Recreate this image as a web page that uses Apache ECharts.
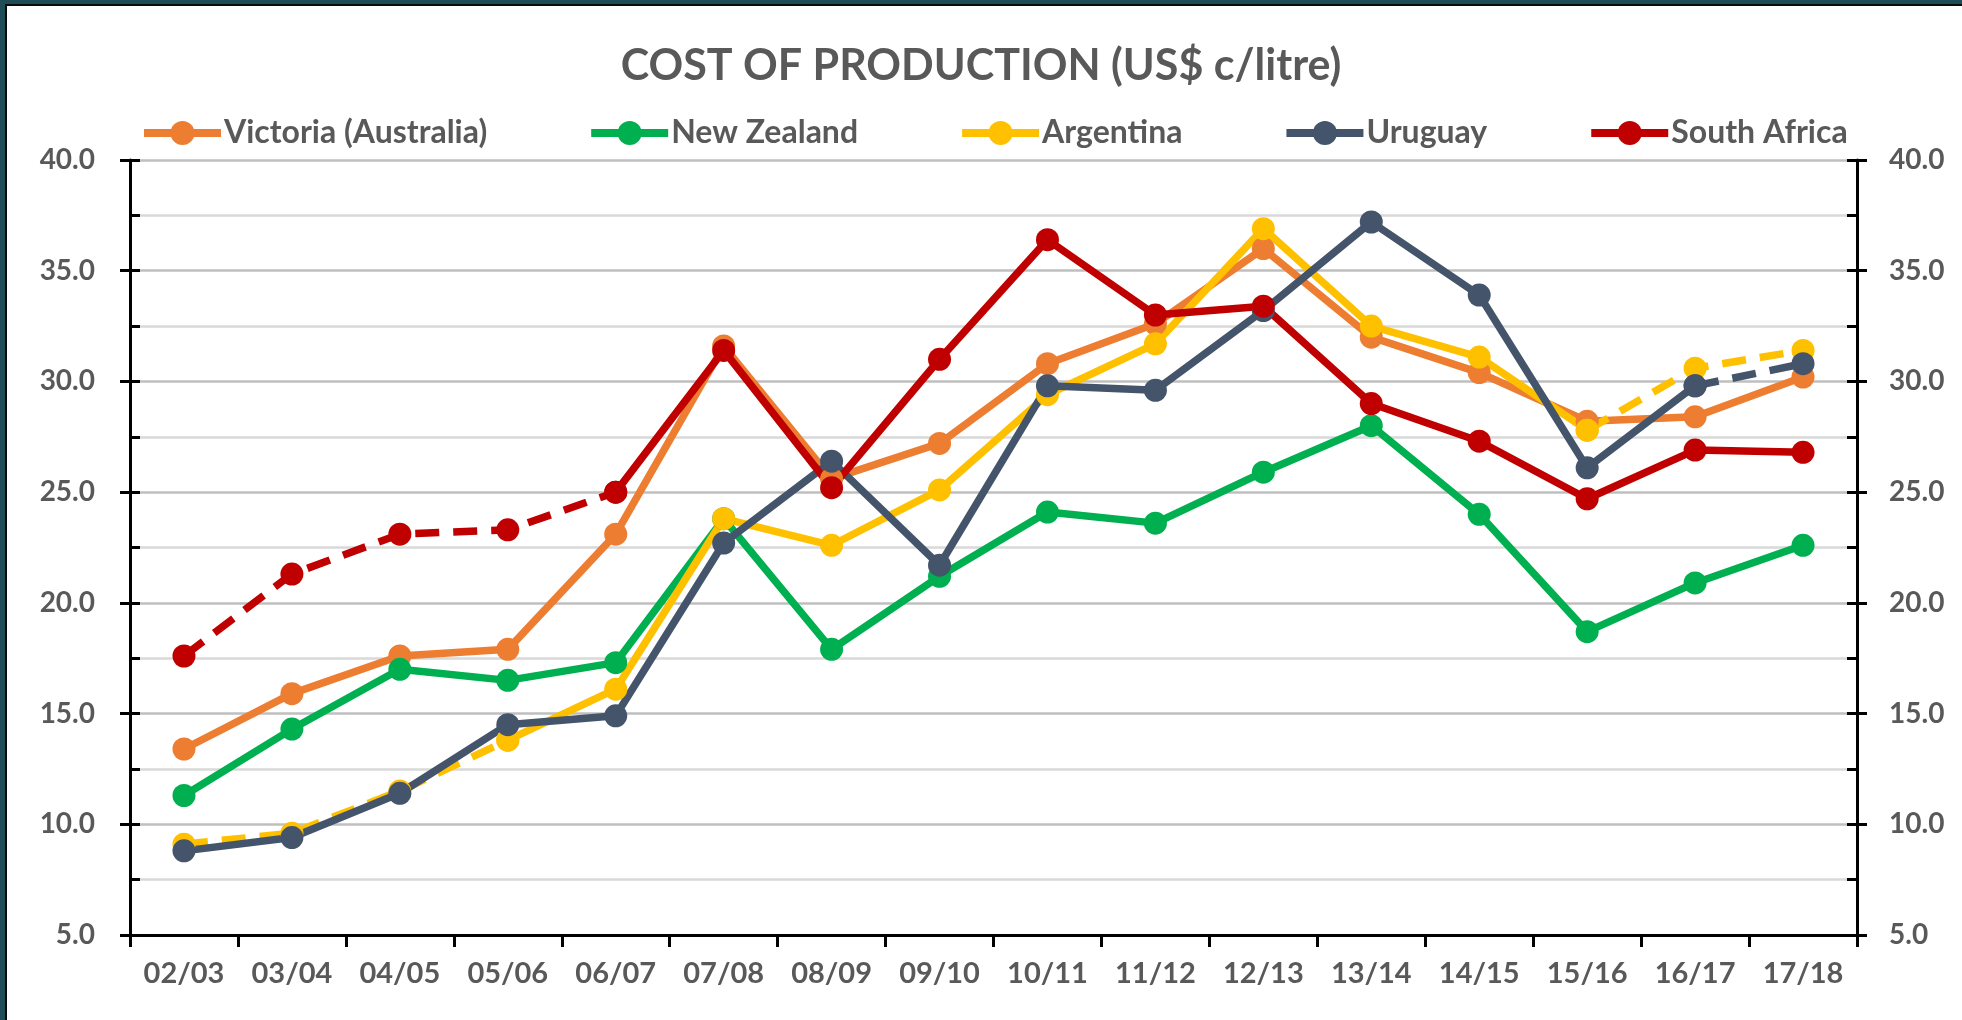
<!DOCTYPE html>
<html>
<head>
<meta charset="utf-8">
<script src="https://cdn.jsdelivr.net/npm/echarts@6/dist/echarts.min.js"></script>
<style>
  html, body { margin: 0; padding: 0; background: #ffffff; }
  #wrap { position: relative; width: 1962px; height: 1020px; overflow: hidden; }
  #chart { position: absolute; left: 0; top: 0; width: 1962px; height: 1020px; }
  .b { position: absolute; pointer-events: none; }
</style>
</head>
<body>
<div id="wrap">
  <div id="chart"></div>
  <div class="b" style="left:0;top:0;width:1962px;height:4px;background:#1f4d57;"></div>
  <div class="b" style="left:0;top:4px;width:1962px;height:2px;background:#0b0b0b;"></div>
  <div class="b" style="left:0;top:0;width:5px;height:1020px;background:#1f4d57;"></div>
  <div class="b" style="left:5px;top:4px;width:2px;height:1016px;background:#0b0b0b;"></div>
</div>
<script>
// ---- data ----
const categories = ['02/03','03/04','04/05','05/06','06/07','07/08','08/09','09/10','10/11','11/12','12/13','13/14','14/15','15/16','16/17','17/18'];
const victoria    = [13.4,15.9,17.6,17.9,23.1,31.6,25.6,27.2,30.8,32.6,36.0,32.0,30.4,28.2,28.4,30.2];
const newZealand  = [11.3,14.3,17.0,16.5,17.3,23.8,17.9,21.2,24.1,23.6,25.9,28.0,24.0,18.7,20.9,22.6];
const argentina   = [9.1,9.6,11.5,13.8,16.1,23.8,22.6,25.1,29.4,31.7,36.9,32.5,31.1,27.8,30.6,31.4];
const uruguay     = [8.8,9.4,11.4,14.5,14.9,22.7,26.4,21.7,29.8,29.6,33.2,37.2,33.9,26.1,29.8,30.8];
const southAfrica = [17.6,21.3,23.1,23.3,25.0,31.4,25.2,31.0,36.4,33.0,33.4,29.0,27.3,24.7,26.9,26.8];
// index ranges drawn dashed (estimates) per series
const argentinaDashed   = [[0, 3], [13, 15]];
const uruguayDashed     = [[14, 15]];
const southAfricaDashed = [[0, 4]];
const yTicks = { min: 5, max: 40, step: 5 };

// ---- helpers ----
function inRanges(i, ranges) { return ranges.some(r => i >= r[0] && i <= r[1]); }
function solidPart(vals, ranges) {
  return vals.map((v, i) => {
    const segLeft = i > 0 && !ranges.some(r => i - 1 >= r[0] && i <= r[1]);
    const segRight = i < vals.length - 1 && !ranges.some(r => i >= r[0] && i + 1 <= r[1]);
    return (segLeft || segRight) ? v : null;
  });
}
function dashedPart(vals, ranges) {
  return vals.map((v, i) => inRanges(i, ranges) ? v : null);
}

const LW = 7.5, SS = 23;
function makeSeries(name, vals, color, ranges) {
  const out = [];
  const solid = ranges.length ? solidPart(vals, ranges) : vals;
  out.push({
    name, type: 'line', data: solid, yAxisIndex: 0,
    symbol: 'circle', symbolSize: SS, connectNulls: false,
    lineStyle: { color, width: LW }, itemStyle: { color },
    emphasis: { disabled: true }, animation: false
  });
  if (ranges.length) {
    out.push({
      name, type: 'line', data: dashedPart(vals, ranges), yAxisIndex: 0,
      symbol: 'circle', symbolSize: SS, connectNulls: false,
      lineStyle: { color, width: LW, type: [24, 14] }, itemStyle: { color },
      emphasis: { disabled: true }, animation: false
    });
  }
  return out;
}

const COLORS = { vic: '#ED7D31', nz: '#00B050', arg: '#FFC000', uru: '#44546A', sa: '#C00000' };
const series = [].concat(
  makeSeries('Victoria (Australia)', victoria, COLORS.vic, []),
  makeSeries('New Zealand', newZealand, COLORS.nz, []),
  makeSeries('Argentina', argentina, COLORS.arg, argentinaDashed),
  makeSeries('Uruguay', uruguay, COLORS.uru, uruguayDashed),
  makeSeries('South Africa', southAfrica, COLORS.sa, southAfricaDashed)
);

const TXT = '#595959';
const FONT = 'Lato';
function labelAxis(pos, margin) {
  return {
    type: 'value', position: pos, min: yTicks.min, max: yTicks.max, interval: yTicks.step,
    axisLine: { show: true, lineStyle: { color: '#000', width: 3 } },
    axisTick: { show: true, inside: false, length: 10, lineStyle: { color: '#000', width: 3 } },
    minorTick: { show: false, splitNumber: 2 },
    axisLabel: { show: true, margin, color: TXT, fontFamily: FONT, fontWeight: 'bold', fontSize: 28,
                 formatter: v => v.toFixed(1) },
    splitLine: { show: pos === 'left', lineStyle: { color: '#bfbfbf', width: 2.5 } },
    minorSplitLine: { show: pos === 'left', lineStyle: { color: '#d9d9d9', width: 2.5 } }
  };
}
function innerAxis(pos) {
  return {
    type: 'value', position: pos, min: yTicks.min, max: yTicks.max, interval: yTicks.step,
    axisLine: { show: false },
    axisTick: { show: true, inside: true, length: 10, lineStyle: { color: '#000', width: 3 } },
    minorTick: { show: true, splitNumber: 2, length: 10, lineStyle: { color: '#000', width: 3 } },
    axisLabel: { show: false },
    splitLine: { show: false }
  };
}

const chart = echarts.init(document.getElementById('chart'), null, { renderer: 'canvas' });
chart.setOption({
  backgroundColor: '#ffffff',
  animation: false,
  title: {
    text: 'COST OF PRODUCTION (US$ c/litre)',
    left: 'center', top: 40,
    textStyle: { color: TXT, fontFamily: FONT, fontWeight: 'bold', fontSize: 43 }
  },
  legend: {
    data: ['Victoria (Australia)', 'New Zealand', 'Argentina', 'Uruguay', 'South Africa'],
    left: 135, top: 112, itemGap: 100, itemWidth: 77, itemHeight: 30,
    lineStyle: { width: 8 },
    textStyle: { color: TXT, fontFamily: FONT, fontWeight: 'bold', fontSize: 32, padding: [0, 0, 0, -2] },
    selectedMode: false
  },
  grid: { left: 130, right: 105, top: 160, bottom: 85, containLabel: false },
  xAxis: {
    type: 'category', data: categories, boundaryGap: true,
    axisLine: { show: true, lineStyle: { color: '#000', width: 3 } },
    axisTick: { show: true, length: 12, alignWithLabel: false, interval: 0, lineStyle: { color: '#000', width: 3 } },
    axisLabel: { interval: 0, margin: 24, color: TXT, fontFamily: FONT, fontWeight: 'bold', fontSize: 29 },
    splitLine: { show: false }
  },
  yAxis: [labelAxis('left', 35), innerAxis('left'), labelAxis('right', 32), innerAxis('right')],
  series
});
</script>
</body>
</html>
